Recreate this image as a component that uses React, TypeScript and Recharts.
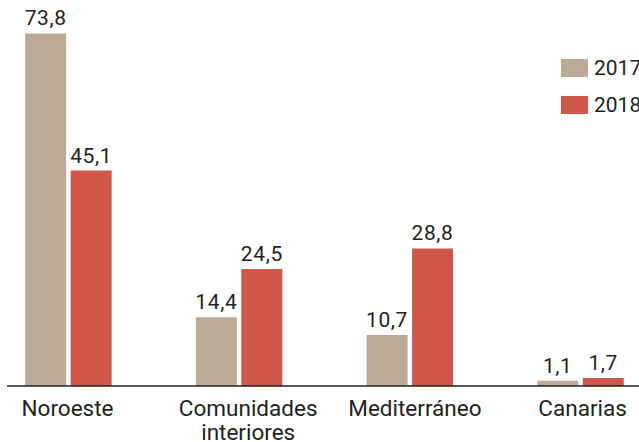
import React from 'react';
import { BarChart, Bar, XAxis, YAxis, LabelList } from 'recharts';

const categories = ['Noroeste', 'Comunidades interiores', 'Mediterráneo', 'Canarias'];
const values2017 = [73.8, 14.4, 10.7, 1.1];
const values2018 = [45.1, 24.5, 28.8, 1.7];
const seriesNames = ['2017', '2018'];

const COLOR_2017 = '#bcaa98';
const COLOR_2018 = '#d0574a';
const TEXT = '#231f20';
const FONT = 'Roboto, "Liberation Sans", sans-serif';

const colors = [COLOR_2017, COLOR_2018];

// the original's category labels are not exactly centred under the bars
const LABEL_DX = [-1, 9, 5, 2];

const data = categories.map((name, i) => ({
  name,
  y2017: values2017[i],
  y2018: values2018[i],
}));

const fmt = (v: any) => Number(v).toFixed(1).replace('.', ',');

// axis labels, wrapped on spaces
const CategoryTick = (props: any) => {
  const { x, y, payload, index } = props;
  const lines = String(payload.value).split(' ');
  const cx = x + (LABEL_DX[index] || 0);
  return (
    <text x={cx} y={y} textAnchor="middle" fill={TEXT} fontSize={22.5} fontFamily={FONT}>
      {lines.map((line: string, i: number) => (
        <tspan key={i} x={cx} dy={i === 0 ? 30 : 24}>
          {line}
        </tspan>
      ))}
    </text>
  );
};

// legend sits in the top right corner, partly cut by the edge like the original
const ChartLegend = () => (
  <div style={{ position: 'absolute', top: 59, left: 561, fontFamily: FONT }}>
    {seriesNames.map((name, i) => (
      <div
        key={name}
        style={{ display: 'flex', alignItems: 'center', height: 18, marginBottom: 19, whiteSpace: 'nowrap' }}
      >
        <div style={{ width: 27, height: 18, background: colors[i], marginRight: 6 }} />
        <span style={{ fontSize: 21, color: TEXT, lineHeight: '18px' }}>{name}</span>
      </div>
    ))}
  </div>
);

const valueLabel = (key: string) => (
  <LabelList
    dataKey={key}
    position="top"
    offset={8}
    formatter={fmt}
    fill={TEXT}
    fontSize={21}
    fontFamily={FONT}
    letterSpacing={0.6}
  />
);

export default function App() {
  return (
    <div style={{ position: 'absolute', left: 0, top: 0, width: 639, height: 442, overflow: 'hidden', background: '#fff' }}>
      <BarChart
        width={700}
        height={442}
        data={data}
        margin={{ top: 0, right: 20, left: 7, bottom: 0 }}
        barSize={41}
        barGap={4.5}
      >
        <XAxis
          dataKey="name"
          interval={0}
          height={56}
          padding={{ left: -23.85, right: 14.05 }}
          axisLine={{ stroke: TEXT, strokeWidth: 1.5 }}
          tickLine={false}
          tickSize={0}
          tickMargin={0}
          tick={<CategoryTick />}
        />
        <YAxis hide domain={[0, 80.8]} />
        <Bar dataKey="y2017" name="2017" fill={COLOR_2017} isAnimationActive={false}>
          {valueLabel('y2017')}
        </Bar>
        <Bar dataKey="y2018" name="2018" fill={COLOR_2018} isAnimationActive={false}>
          {valueLabel('y2018')}
        </Bar>
      </BarChart>
      <ChartLegend />
    </div>
  );
}
